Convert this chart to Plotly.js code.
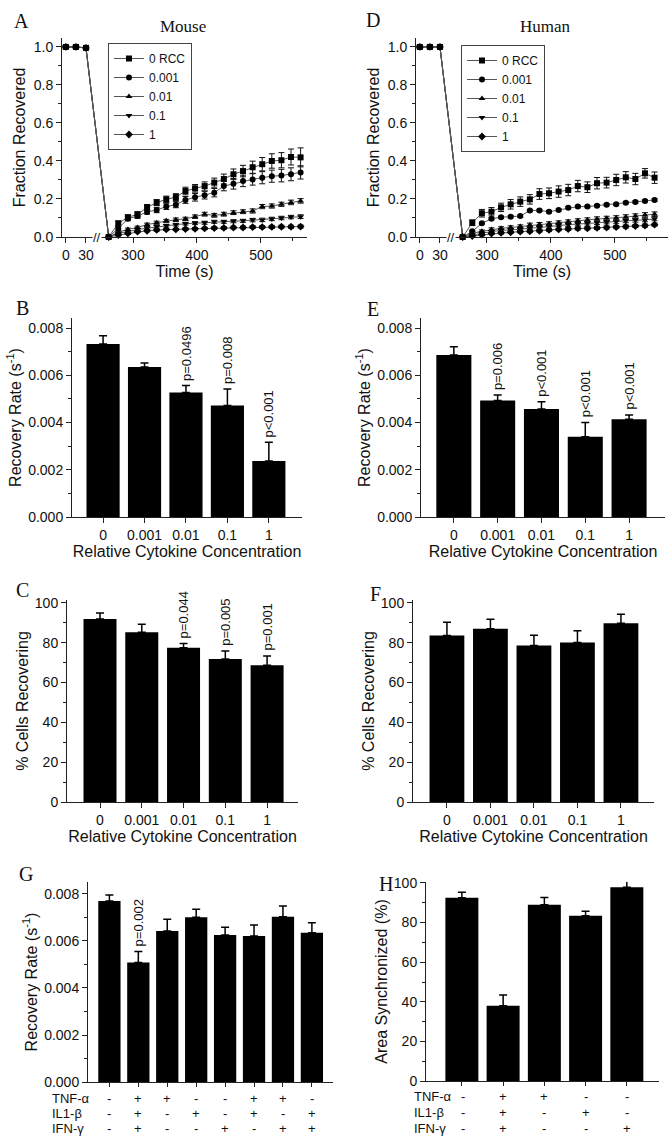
<!DOCTYPE html>
<html><head><meta charset="utf-8">
<script src="https://cdn.plot.ly/plotly-3.0.1.min.js"></script>
<style>html,body{margin:0;padding:0;background:#fff;} #chart{width:668px;height:1136px;}</style>
</head><body><div id="chart"></div>
<script>
// ---------------- data ----------------
const seriesNames = ['0 RCC', '0.001', '0.01', '0.1', '1'];
const seriesSymbols = ['square', 'circle', 'triangle-up', 'triangle-down', 'diamond'];
const preTimes = [0, 15, 30];
const postTimes = [262, 277, 292, 307, 322, 337, 352, 367, 382, 397, 412, 427, 442, 457, 472, 487, 502, 517, 532, 547, 562];
const timeTickLabels = [0, 30, 300, 400, 500];
const timeMinorTicks = [350, 450, 550];

// Panel A (mouse) fraction recovered
const mouse0 = [1.0, 1.0, 0.995, 0, 0.072, 0.104, 0.119, 0.156, 0.181, 0.198, 0.21, 0.242, 0.256, 0.268, 0.286, 0.305, 0.33, 0.347, 0.367, 0.383, 0.40, 0.404, 0.421, 0.419];
const mouse1 = [1.0, 1.0, 0.995, 0, 0.045, 0.096, 0.11, 0.132, 0.142, 0.16, 0.17, 0.195, 0.209, 0.22, 0.233, 0.268, 0.28, 0.295, 0.303, 0.312, 0.32, 0.323, 0.33, 0.34];
const mouse2 = [1.0, 1.0, 0.995, 0, 0.025, 0.04, 0.05, 0.065, 0.075, 0.085, 0.091, 0.095, 0.107, 0.12, 0.114, 0.12, 0.128, 0.133, 0.137, 0.16, 0.163, 0.172, 0.182, 0.19];
const mouse3 = [1.0, 1.0, 0.995, 0, 0.02, 0.028, 0.04, 0.047, 0.054, 0.06, 0.065, 0.07, 0.073, 0.075, 0.08, 0.08, 0.083, 0.085, 0.089, 0.09, 0.095, 0.1, 0.105, 0.107];
const mouse4 = [1.0, 1.0, 0.995, 0, 0.01, 0.019, 0.028, 0.033, 0.037, 0.04, 0.04, 0.042, 0.043, 0.045, 0.047, 0.048, 0.05, 0.05, 0.052, 0.052, 0.053, 0.054, 0.054, 0.055];
const mouseErr0 = [0.005, 0.005, 0.005, 0, 0.012, 0.012, 0.014, 0.015, 0.016, 0.017, 0.018, 0.02, 0.02, 0.022, 0.024, 0.026, 0.028, 0.03, 0.032, 0.035, 0.038, 0.04, 0.042, 0.05];
const mouseErr1 = [0.005, 0.005, 0.005, 0, 0.01, 0.01, 0.012, 0.012, 0.014, 0.015, 0.016, 0.018, 0.02, 0.02, 0.022, 0.025, 0.028, 0.03, 0.03, 0.032, 0.032, 0.033, 0.034, 0.035];
const mouseErr2 = [0.004, 0.004, 0.004, 0, 0.006, 0.007, 0.007, 0.008, 0.008, 0.008, 0.009, 0.009, 0.009, 0.01, 0.01, 0.01, 0.01, 0.01, 0.011, 0.011, 0.011, 0.011, 0.012, 0.012];
const mouseErr3 = [0.004, 0.004, 0.004, 0, 0.005, 0.006, 0.006, 0.006, 0.007, 0.007, 0.007, 0.007, 0.008, 0.008, 0.008, 0.008, 0.008, 0.008, 0.009, 0.009, 0.009, 0.009, 0.009, 0.01];
const mouseErr4 = [0.004, 0.004, 0.004, 0, 0.004, 0.005, 0.005, 0.005, 0.006, 0.006, 0.006, 0.006, 0.006, 0.006, 0.007, 0.007, 0.007, 0.007, 0.007, 0.007, 0.008, 0.008, 0.008, 0.008];

// Panel D (human) fraction recovered
const human0 = [1.0, 1.0, 1.0, 0, 0.075, 0.125, 0.133, 0.156, 0.172, 0.186, 0.198, 0.226, 0.23, 0.239, 0.247, 0.268, 0.262, 0.283, 0.286, 0.30, 0.314, 0.305, 0.335, 0.312];
const human1 = [1.0, 1.0, 1.0, 0, 0.03, 0.072, 0.096, 0.104, 0.107, 0.11, 0.139, 0.14, 0.133, 0.142, 0.154, 0.16, 0.16, 0.165, 0.17, 0.172, 0.18, 0.184, 0.19, 0.195];
const human2 = [1.0, 1.0, 1.0, 0, 0.02, 0.03, 0.04, 0.046, 0.05, 0.055, 0.063, 0.066, 0.07, 0.075, 0.08, 0.085, 0.09, 0.095, 0.098, 0.1, 0.105, 0.11, 0.116, 0.12];
const human3 = [1.0, 1.0, 1.0, 0, 0.012, 0.02, 0.028, 0.035, 0.037, 0.04, 0.046, 0.05, 0.055, 0.063, 0.065, 0.068, 0.072, 0.075, 0.078, 0.08, 0.085, 0.088, 0.09, 0.095];
const human4 = [1.0, 1.0, 1.0, 0, 0.005, 0.012, 0.018, 0.022, 0.025, 0.028, 0.03, 0.033, 0.037, 0.04, 0.042, 0.045, 0.046, 0.048, 0.05, 0.052, 0.055, 0.058, 0.06, 0.065];
const humanErr0 = [0.005, 0.005, 0.005, 0, 0.015, 0.02, 0.022, 0.022, 0.025, 0.025, 0.025, 0.028, 0.028, 0.03, 0.03, 0.03, 0.028, 0.03, 0.028, 0.03, 0.03, 0.03, 0.025, 0.03];
const humanErr1 = [0.004, 0.004, 0.004, 0, 0.005, 0.005, 0.005, 0.005, 0.006, 0.006, 0.006, 0.006, 0.006, 0.006, 0.006, 0.006, 0.006, 0.006, 0.006, 0.006, 0.006, 0.006, 0.006, 0.006];
const humanErr2 = [0.004, 0.004, 0.004, 0, 0.006, 0.007, 0.008, 0.008, 0.009, 0.009, 0.01, 0.01, 0.01, 0.01, 0.01, 0.011, 0.011, 0.011, 0.011, 0.012, 0.012, 0.012, 0.012, 0.012];
const humanErr3 = [0.004, 0.004, 0.004, 0, 0.005, 0.006, 0.006, 0.007, 0.007, 0.007, 0.008, 0.008, 0.008, 0.008, 0.009, 0.009, 0.009, 0.009, 0.009, 0.01, 0.01, 0.01, 0.01, 0.01];
const humanErr4 = [0.004, 0.004, 0.004, 0, 0.004, 0.005, 0.005, 0.006, 0.006, 0.006, 0.007, 0.007, 0.007, 0.007, 0.007, 0.008, 0.008, 0.008, 0.008, 0.008, 0.008, 0.008, 0.008, 0.008];

// Bar panels
const concCategories = ['0', '0.001', '0.01', '0.1', '1'];
const mouseRate = [0.00733, 0.00635, 0.00527, 0.00472, 0.00237];
const mouseRateErr = [0.00035, 0.00017, 0.0003, 0.0007, 0.0008];
const mouseRateP = ['', '', 'p=0.0496', 'p=0.008', 'p<0.001'];
const humanRate = [0.00686, 0.00493, 0.00458, 0.0034, 0.00414];
const humanRateErr = [0.00035, 0.00024, 0.0003, 0.0006, 0.00018];
const humanRateP = ['', 'p=0.006', 'p<0.001', 'p<0.001', 'p<0.001'];
const mouseCells = [92, 85.3, 77.5, 71.9, 68.7];
const mouseCellsErr = [3, 4, 2.2, 4, 4.7];
const mouseCellsP = ['', '', 'p=0.044', 'p=0.005', 'p=0.001'];
const humanCells = [83.6, 87.1, 78.6, 80.1, 89.8];
const humanCellsErr = [6.7, 4.7, 5.2, 6, 4.5];
const humanCellsP = ['', '', '', '', ''];
const comboRate = [0.0077, 0.00508, 0.00643, 0.00701, 0.00626, 0.00621, 0.00703, 0.00635];
const comboRateErr = [0.00026, 0.00047, 0.0005, 0.00034, 0.00032, 0.00047, 0.00046, 0.00043];
const comboRateP = ['', 'p=0.002', '', '', '', '', '', ''];
const cytokineNames = ['TNF-α', 'IL1-β', 'IFN-γ'];
const comboTNF = ['-', '+', '+', '-', '-', '+', '+', '-'];
const comboIL1 = ['-', '+', '-', '+', '-', '+', '-', '+'];
const comboIFN = ['-', '+', '-', '-', '+', '-', '+', '+'];
const syncArea = [92.6, 38, 89, 83.5, 97.8];
const syncAreaErr = [2.7, 5.4, 3.7, 2.2, 3.2];
const syncAreaP = ['', '', '', '', ''];
const syncTNF = ['-', '+', '+', '-', '-'];
const syncIL1 = ['-', '+', '-', '+', '-'];
const syncIFN = ['-', '+', '-', '-', '+'];

// ---------------- helpers ----------------
const SANS = 'Liberation Sans, Arial, Helvetica, sans-serif';
const SERIF = 'Liberation Serif, Times New Roman, serif';
const W = 668, H = 1136;
const fx = p => p / W;
const fy = p => 1 - p / H;
// broken time axis: pre-bleach seconds are placed in the compressed left segment
const tAxis = t => (t < 100 ? 195 + 1.05 * t : t);
const BREAK_AT = 244;

function axisBase(extra) {
  return Object.assign({
    showline: true, linecolor: '#222', linewidth: 1,
    ticks: 'outside', ticklen: 5, tickwidth: 1, tickcolor: '#222',
    showgrid: false, zeroline: false, fixedrange: true,
    tickfont: {family: SANS, size: 14, color: '#111'}
  }, extra);
}

const traces = [];
const annotations = [];

function timeSeries(vals, errs, idx, xa, ya, legendId) {
  const t = preTimes.concat(postTimes);
  traces.push({
    type: 'scatter', mode: 'lines+markers', name: seriesNames[idx],
    x: t.map(tAxis), y: vals, xaxis: xa, yaxis: ya, legend: legendId,
    cliponaxis: false,
    line: {color: '#555', width: 1},
    marker: {symbol: seriesSymbols[idx], size: 6, color: '#000'},
    error_y: {type: 'data', array: errs, visible: true, color: '#111', thickness: 1, width: 3}
  });
}
[mouse0, mouse1, mouse2, mouse3, mouse4].forEach((v, i) =>
  timeSeries(v, [mouseErr0, mouseErr1, mouseErr2, mouseErr3, mouseErr4][i], i, 'x', 'y', 'legend'));
[human0, human1, human2, human3, human4].forEach((v, i) =>
  timeSeries(v, [humanErr0, humanErr1, humanErr2, humanErr3, humanErr4][i], i, 'x2', 'y2', 'legend2'));

function barPanel(vals, errs, pvals, xa, ya, width) {
  const xs = vals.map((_, i) => i);
  traces.push({
    type: 'bar', x: xs, y: vals, xaxis: xa, yaxis: ya, width: width,
    showlegend: false, cliponaxis: false,
    marker: {color: '#000', line: {width: 0}},
    error_y: {type: 'data', symmetric: false, array: errs, arrayminus: errs.map(() => 0),
              visible: true, color: '#000', thickness: 1.5, width: 4}
  });
  pvals.forEach((p, i) => {
    if (!p) return;
    annotations.push({xref: xa, yref: ya, x: i, y: vals[i] + errs[i], text: p,
      textangle: -90, xanchor: 'center', yanchor: 'bottom', yshift: 3, showarrow: false,
      font: {family: SANS, size: 13, color: '#111'}});
  });
}
barPanel(mouseRate, mouseRateErr, mouseRateP, 'x3', 'y3', 0.8);
barPanel(humanRate, humanRateErr, humanRateP, 'x4', 'y4', 0.8);
barPanel(mouseCells, mouseCellsErr, mouseCellsP, 'x5', 'y5', 0.79);
barPanel(humanCells, humanCellsErr, humanCellsP, 'x6', 'y6', 0.8);
barPanel(comboRate, comboRateErr, comboRateP, 'x7', 'y7', 0.77);
barPanel(syncArea, syncAreaErr, syncAreaP, 'x8', 'y8', 0.8);

// panel letters and titles
[['A', 21, 21], ['D', 373, 20], ['B', 22, 308], ['E', 373, 309], ['C', 22, 590], ['F', 375, 594], ['G', 26, 874], ['H', 386, 884]]
  .forEach(([t, x, y]) => annotations.push({xref: 'paper', yref: 'paper', x: fx(x), y: fy(y), text: t,
    xanchor: 'center', yanchor: 'middle', showarrow: false, font: {family: SERIF, size: 20, color: '#111'}}));
[['Mouse', 183, 26], ['Human', 545, 26]].forEach(([t, x, y]) => annotations.push({xref: 'paper', yref: 'paper',
  x: fx(x), y: fy(y), text: t, xanchor: 'center', yanchor: 'middle', showarrow: false,
  font: {family: SERIF, size: 17, color: '#111'}}));

// axis break marks
[['x', 'y'], ['x2', 'y2']].forEach(([xa, ya]) => annotations.push({xref: xa, yref: ya, x: BREAK_AT, y: 0,
  text: '//', showarrow: false, bgcolor: 'white', borderpad: 0, font: {family: SANS, size: 13, color: '#111'}}));

// treatment tables under G and H
function table(rows, xa, labelX, colOffset, rowYs) {
  rows.forEach((row, r) => {
    annotations.push({xref: 'paper', yref: 'paper', x: fx(labelX), y: fy(rowYs[r]), text: cytokineNames[r],
      xanchor: 'left', yanchor: 'middle', showarrow: false, font: {family: SANS, size: 13, color: '#111'}});
    row.forEach((s, i) => annotations.push({xref: xa, yref: 'paper', x: i + (i === 0 ? colOffset : 0), y: fy(rowYs[r]),
      text: s, xanchor: 'center', yanchor: 'middle', showarrow: false, font: {family: SANS, size: 13, color: '#111'}}));
  });
}
table([comboTNF, comboIL1, comboIFN], 'x7', 50, 0, [1098, 1113, 1128]);
table([syncTNF, syncIL1, syncIFN], 'x8', 412, 0.02, [1096, 1112, 1128]);

const titleFont = {family: SANS, size: 16, color: '#111'};
const catTicks = {tickmode: 'array', tickvals: concCategories.map((_, i) => i), ticktext: concCategories};

const layout = {
  width: W, height: H, margin: {l: 0, r: 0, t: 0, b: 0},
  paper_bgcolor: 'white', plot_bgcolor: 'white',
  font: {family: SANS, color: '#111', size: 14},
  showlegend: true,
  // A
  xaxis: axisBase({domain: [fx(62), fx(307)], range: [189, 572], anchor: 'y',
    tickmode: 'array', tickvals: timeTickLabels.map(tAxis), ticktext: timeTickLabels.map(String),
    minor: {tickmode: 'array', tickvals: timeMinorTicks, ticks: 'outside', ticklen: 3, tickcolor: '#222'},
    title: {text: 'Time (s)', font: titleFont, standoff: 3}}),
  yaxis: axisBase({domain: [fy(237), fy(38)], range: [0, 1.047], anchor: 'x', dtick: 0.2, tick0: 0, tickformat: '.1f',
    minor: {dtick: 0.1, ticks: 'outside', ticklen: 3, tickcolor: '#222'},
    title: {text: 'Fraction Recovered', font: titleFont, standoff: 4}}),
  // D
  xaxis2: axisBase({domain: [fx(416), 1], range: [189, 583], anchor: 'y2',
    tickmode: 'array', tickvals: timeTickLabels.map(tAxis), ticktext: timeTickLabels.map(String),
    minor: {tickmode: 'array', tickvals: timeMinorTicks, ticks: 'outside', ticklen: 3, tickcolor: '#222'},
    title: {text: 'Time (s)', font: titleFont, standoff: 3}}),
  yaxis2: axisBase({domain: [fy(237), fy(38)], range: [0, 1.047], anchor: 'x2', dtick: 0.2, tick0: 0, tickformat: '.1f',
    minor: {dtick: 0.1, ticks: 'outside', ticklen: 3, tickcolor: '#222'},
    title: {text: 'Fraction Recovered', font: titleFont, standoff: 4}}),
  // B
  xaxis3: axisBase(Object.assign({domain: [fx(72), fx(302)], range: [-0.75, 4.8], anchor: 'y3',
    title: {text: 'Relative Cytokine Concentration', font: titleFont, standoff: 4}}, catTicks)),
  yaxis3: axisBase({domain: [fy(517), fy(318)], range: [0, 0.00843], anchor: 'x3', dtick: 0.002, tick0: 0, tickformat: '.3f',
    minor: {dtick: 0.001, ticks: 'outside', ticklen: 3, tickcolor: '#222'},
    title: {text: 'Recovery Rate (s<sup>-1</sup>)', font: titleFont, standoff: 2}}),
  // E
  xaxis4: axisBase(Object.assign({domain: [fx(421), fx(665)], range: [-0.75, 4.82], anchor: 'y4',
    title: {text: 'Relative Cytokine Concentration', font: titleFont, standoff: 4}}, catTicks)),
  yaxis4: axisBase({domain: [fy(517), fy(318)], range: [0, 0.00843], anchor: 'x4', dtick: 0.002, tick0: 0, tickformat: '.3f',
    minor: {dtick: 0.001, ticks: 'outside', ticklen: 3, tickcolor: '#222'},
    title: {text: 'Recovery Rate (s<sup>-1</sup>)', font: titleFont, standoff: 2}}),
  // C
  xaxis5: axisBase(Object.assign({domain: [fx(67), fx(298)], range: [-0.79, 4.74], anchor: 'y5',
    title: {text: 'Relative Cytokine Concentration', font: titleFont, standoff: 4}}, catTicks)),
  yaxis5: axisBase({domain: [fy(802), fy(600)], range: [0, 101.5], anchor: 'x5', dtick: 20, tick0: 0,
    minor: {dtick: 10, ticks: 'outside', ticklen: 3, tickcolor: '#222'},
    title: {text: '% Cells Recovering', font: titleFont, standoff: 2}}),
  // F
  xaxis6: axisBase(Object.assign({domain: [fx(413), fx(654)], range: [-0.78, 4.76], anchor: 'y6',
    title: {text: 'Relative Cytokine Concentration', font: titleFont, standoff: 4}}, catTicks)),
  yaxis6: axisBase({domain: [fy(802), fy(600)], range: [0, 101.5], anchor: 'x6', dtick: 20, tick0: 0,
    minor: {dtick: 10, ticks: 'outside', ticklen: 3, tickcolor: '#222'},
    title: {text: '% Cells Recovering', font: titleFont, standoff: 2}}),
  // G
  xaxis7: axisBase({domain: [fx(88), fx(333)], range: [-0.74, 7.73], anchor: 'y7',
    tickmode: 'array', tickvals: comboRate.map((_, i) => i), showticklabels: false, ticklen: 4}),
  yaxis7: axisBase({domain: [fy(1082), fy(882)], range: [0, 0.00851], anchor: 'x7', dtick: 0.002, tick0: 0, tickformat: '.3f',
    minor: {dtick: 0.001, ticks: 'outside', ticklen: 3, tickcolor: '#222'},
    title: {text: 'Recovery Rate (s<sup>-1</sup>)', font: titleFont, standoff: 2}}),
  // H
  xaxis8: axisBase({domain: [fx(426), fx(659)], range: [-0.87, 4.78], anchor: 'y8',
    tickmode: 'array', tickvals: syncArea.map((_, i) => i), showticklabels: false, ticklen: 4}),
  yaxis8: axisBase({domain: [fy(1081), fy(882)], range: [0, 100.5], anchor: 'x8', dtick: 20, tick0: 0,
    minor: {dtick: 10, ticks: 'outside', ticklen: 3, tickcolor: '#222'},
    title: {text: 'Area Synchronized (%)', font: titleFont, standoff: 2}}),
  legend: {x: fx(108), y: fy(43), xanchor: 'left', yanchor: 'top', bgcolor: 'white',
    bordercolor: '#444', borderwidth: 1, font: {family: SANS, size: 12, color: '#111'}, itemwidth: 30, tracegroupgap: 0},
  legend2: {x: fx(461), y: fy(45), xanchor: 'left', yanchor: 'top', bgcolor: 'white',
    bordercolor: '#444', borderwidth: 1, font: {family: SANS, size: 12, color: '#111'}, itemwidth: 30, tracegroupgap: 0},
  annotations: annotations
};

Plotly.newPlot('chart', traces, layout, {staticPlot: true, displayModeBar: false});
</script>
</body></html>
